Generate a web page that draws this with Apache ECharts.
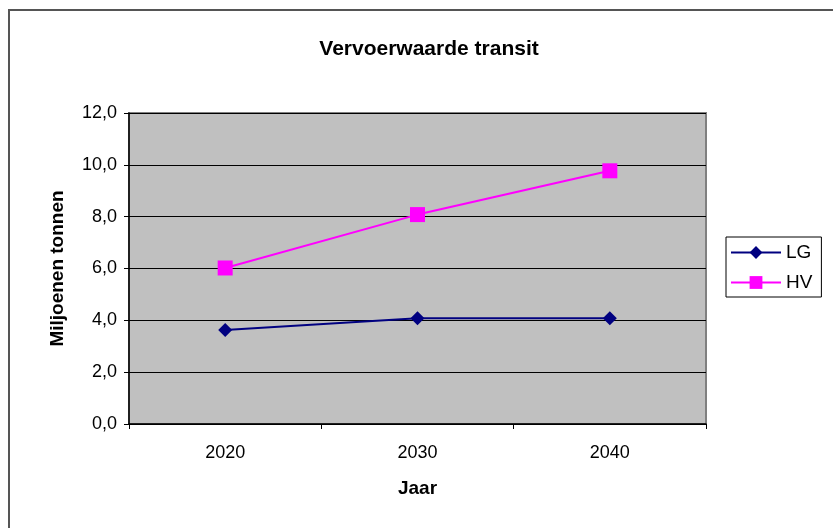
<!DOCTYPE html>
<html>
<head>
<meta charset="utf-8">
<script src="https://cdn.jsdelivr.net/npm/echarts@6/dist/echarts.min.js"></script>
<style>
  html, body { margin: 0; padding: 0; background: #fff; }
  #chart { width: 833px; height: 528px; }
</style>
</head>
<body>
<div id="chart"></div>
<script>
// Transit freight volume per scenario, million tonnes
const years = ['2020', '2030', '2040'];
const lgValues = [3.63, 4.08, 4.08];
const hvValues = [6.02, 8.08, 9.77];
const yTicks = [0, 2, 4, 6, 8, 10, 12];

const font = '"Liberation Sans", Arial, sans-serif';

const chart = echarts.init(document.getElementById('chart'), null, { renderer: 'canvas' });

chart.setOption({
  animation: false,
  backgroundColor: '#ffffff',
  title: {
    text: 'Vervoerwaarde transit',
    left: 424,
    textAlign: 'center',
    top: 34,
    textStyle: { fontFamily: font, fontSize: 21, fontWeight: 'bold', color: '#000' }
  },
  graphic: [
    {
      type: 'rect',
      shape: { x: 9, y: 10, width: 900, height: 600 },
      style: { fill: 'none', stroke: '#555', lineWidth: 2 },
      silent: true,
      z: -1
    }
  ],
  grid: {
    left: 129,
    right: 127,
    top: 113,
    bottom: 104,
    show: true,
    backgroundColor: '#c0c0c0',
    borderColor: '#808080',
    borderWidth: 2
  },
  legend: {
    orient: 'vertical',
    left: 726,
    top: 237,
    itemWidth: 50,
    itemHeight: 16,
    itemGap: 11,
    padding: [6, 9, 5, 4],
    borderColor: '#000',
    borderWidth: 1,
    textStyle: { fontFamily: font, fontSize: 19, color: '#000' },
    data: ['LG', 'HV']
  },
  xAxis: {
    type: 'category',
    data: years,
    boundaryGap: true,
    name: 'Jaar',
    nameLocation: 'middle',
    nameGap: 55,
    nameTextStyle: { fontFamily: font, fontSize: 19, fontWeight: 'bold', color: '#000' },
    axisLine: { show: true, lineStyle: { color: '#000', width: 1.5 } },
    axisTick: { show: true, alignWithLabel: false, length: 5, lineStyle: { color: '#000' } },
    axisLabel: { fontFamily: font, fontSize: 18, color: '#000', margin: 20 }
  },
  yAxis: {
    type: 'value',
    min: yTicks[0],
    max: yTicks[yTicks.length - 1],
    interval: 2,
    name: 'Miljoenen tonnen',
    nameLocation: 'middle',
    nameGap: 62,
    nameRotate: 90,
    nameTextStyle: { fontFamily: font, fontSize: 19, fontWeight: 'bold', color: '#000' },
    axisLine: { show: true, lineStyle: { color: '#000', width: 1.5 } },
    axisTick: { show: true, length: 5, lineStyle: { color: '#000' } },
    axisLabel: {
      fontFamily: font, fontSize: 18, color: '#000', margin: 12,
      formatter: v => v.toFixed(1).replace('.', ',')
    },
    splitLine: { show: true, lineStyle: { color: '#000', width: 1.2 } }
  },
  series: [
    {
      name: 'LG',
      type: 'line',
      data: lgValues,
      symbol: 'diamond',
      symbolSize: 14,
      itemStyle: { color: '#000080' },
      lineStyle: { color: '#000080', width: 2 }
    },
    {
      name: 'HV',
      type: 'line',
      data: hvValues,
      symbol: 'rect',
      symbolSize: 15,
      itemStyle: { color: '#ff00ff' },
      lineStyle: { color: '#ff00ff', width: 2 }
    }
  ]
});
</script>
</body>
</html>
